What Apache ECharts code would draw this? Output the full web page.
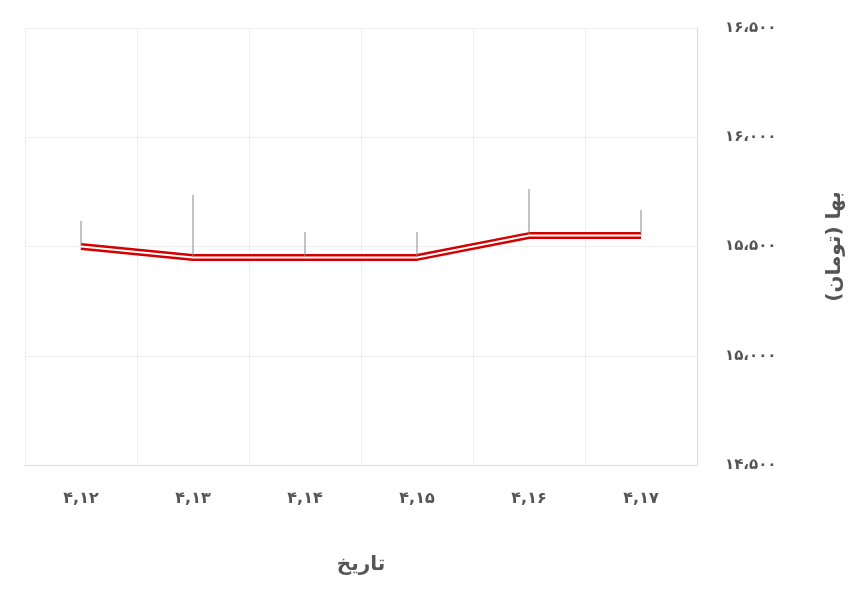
<!DOCTYPE html>
<html><head><meta charset="utf-8">
<script src="https://cdn.jsdelivr.net/npm/echarts@6/dist/echarts.min.js"></script>
<style>html,body{margin:0;background:#fff}#c{width:860px;height:597px}</style>
</head><body><div id="c"></div>
<script>
var categories = ['۴,۱۲', '۴,۱۳', '۴,۱۴', '۴,۱۵', '۴,۱۶', '۴,۱۷'];
var prices = [15500, 15450, 15450, 15450, 15550, 15550];
var fa = '۰۱۲۳۴۵۶۷۸۹';
function toFa(v) {
    var s = String(v);
    s = s.slice(0, s.length - 3) + '،' + s.slice(-3);
    return s.replace(/[0-9]/g, function (d) { return fa[d]; });
}
var font = '"DejaVu Sans", "Noto Sans", sans-serif';
var chart = echarts.init(document.getElementById('c'));
chart.setOption({
    animation: false,
    grid: { left: 25, right: 163, top: 28, bottom: 132 },
    xAxis: {
        type: 'category',
        data: categories,
        name: 'تاریخ',
        nameLocation: 'middle',
        nameGap: 90,
        nameTextStyle: { color: '#555', fontSize: 20, fontWeight: 'bold', fontFamily: font },
        axisLine: { lineStyle: { color: '#ddd' } },
        axisTick: { show: false },
        axisLabel: { color: '#555', fontSize: 16, fontWeight: 'bold', margin: 26, fontFamily: font },
        splitLine: { show: true, lineStyle: { color: '#eee' } }
    },
    yAxis: {
        type: 'value',
        position: 'right',
        min: 14500, max: 16500, interval: 500,
        name: 'بها (تومان)',
        nameLocation: 'middle',
        nameRotate: 90,
        nameGap: 128,
        nameTextStyle: { color: '#555', fontSize: 20, fontWeight: 'bold', fontFamily: font },
        axisLine: { show: true, lineStyle: { color: '#ddd' } },
        axisLabel: { color: '#555', fontSize: 15, fontWeight: 'bold', margin: 28, fontFamily: font, formatter: toFa },
        splitLine: { lineStyle: { color: '#eee' } }
    },
    series: [{
        type: 'line',
        data: prices,
        symbol: 'circle',
        symbolSize: 1,
        showAllSymbol: true,
        itemStyle: { opacity: 0 },
        lineStyle: { color: '#d40000', width: 7 },
        label: {
            show: true, position: 'top', distance: 25,
            color: '#444', fontSize: 16, fontWeight: 'bold', fontFamily: font,
            formatter: function (p) { return toFa(p.value); }
        },
        labelLine: { show: true, lineStyle: { color: '#888', width: 1 } },
        labelLayout: function (p) {
            if (p.dataIndex === 1) return { dy: -37 };
            if (p.dataIndex === 4) return { dy: -21 };
            return {};
        }
    }, {
        type: 'line',
        data: prices,
        symbol: 'none',
        silent: true,
        lineStyle: { color: '#fff', width: 2 },
        z: 3
    }]
});
</script></body></html>
